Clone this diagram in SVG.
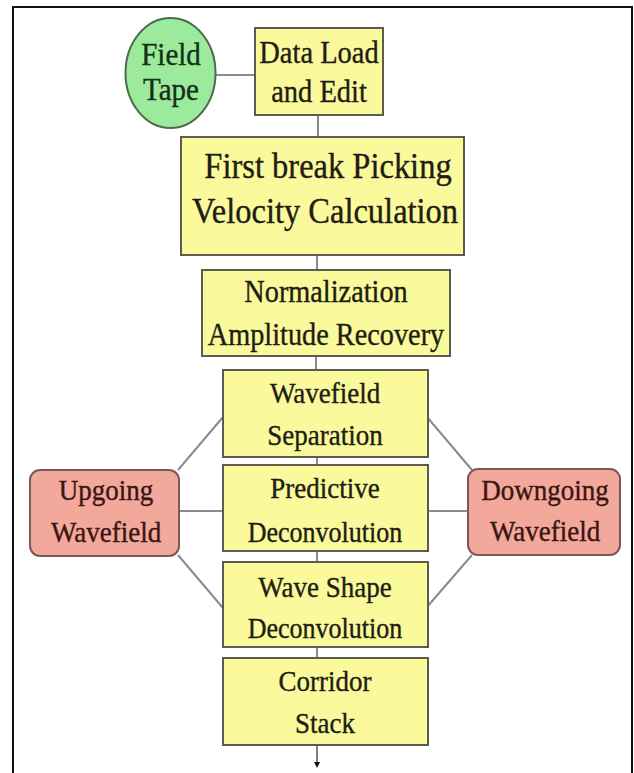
<svg xmlns="http://www.w3.org/2000/svg" width="634" height="773" viewBox="0 0 634 773">
<style>
.box{fill:#FAFA9C;stroke:#5c5c4c;stroke-width:2}
.pink{fill:#F2A89B;stroke:#7a5a55;stroke-width:2}
.green{fill:#9CEB9C;stroke:#4c6a4c;stroke-width:2}
.t{font-family:"Liberation Serif","Times New Roman",serif;fill:#1e1e14;stroke:#1e1e14;stroke-width:0.35;text-anchor:middle}
.tp{fill:#3a1512;stroke:#3a1512}
.tg{fill:#14301a;stroke:#14301a}
.c{stroke:#8a8a90;stroke-width:2;fill:none}
</style>
<defs>
<marker id="arr" markerWidth="6" markerHeight="6" refX="3" refY="3" orient="auto" markerUnits="userSpaceOnUse">
<path d="M0,0 L6,3 L0,6 Z" fill="#111"/>
</marker>
</defs>
<rect x="0" y="0" width="634" height="773" fill="#fff"/>
<rect x="13" y="7" width="619" height="800" fill="none" stroke="#111" stroke-width="2"/>
<g id="connectors">
<line class="c" x1="215" y1="75" x2="255" y2="75"/>
<line class="c" x1="318" y1="115" x2="318" y2="137"/>
<line class="c" x1="317" y1="255" x2="317" y2="270"/>
<line class="c" x1="316" y1="356" x2="316" y2="370"/>
<line class="c" x1="317" y1="457" x2="317" y2="465"/>
<line class="c" x1="317" y1="551" x2="317" y2="562"/>
<line class="c" x1="317" y1="647" x2="317" y2="658"/>
<line class="c" x1="178" y1="470" x2="223" y2="417"/>
<line class="c" x1="179" y1="511" x2="223" y2="511"/>
<line class="c" x1="178" y1="555" x2="223" y2="608"/>
<line class="c" x1="427" y1="417" x2="472" y2="470"/>
<line class="c" x1="428" y1="511" x2="468" y2="511"/>
<line class="c" x1="427" y1="607" x2="472" y2="555"/>
<line x1="317" y1="745" x2="317" y2="765" stroke="#555" stroke-width="1.5" marker-end="url(#arr)"/>
</g>
<g id="field-tape">
<ellipse class="green" cx="170.5" cy="73" rx="45" ry="55"/>
<text class="t tg" transform="translate(171 65) scale(1 1.1)" font-size="29">Field</text>
<text class="t tg" transform="translate(171 100) scale(1 1.1)" font-size="29">Tape</text>
</g>
<g id="data-load">
<rect class="box" x="255" y="28" width="128" height="87"/>
<text class="t" transform="translate(319 63) scale(1 1.1)" font-size="28.5">Data Load</text>
<text class="t" transform="translate(319 102) scale(1 1.1)" font-size="28.5">and Edit</text>
</g>
<g id="first-break">
<rect class="box" x="181" y="137" width="283" height="118"/>
<text class="t" transform="translate(328 178) scale(1 1.1)" font-size="32.5">First break Picking</text>
<text class="t" transform="translate(325 223) scale(1 1.1)" font-size="32.5">Velocity Calculation</text>
</g>
<g id="normalization">
<rect class="box" x="202" y="270" width="248" height="86"/>
<text class="t" transform="translate(326 302) scale(1 1.1)" font-size="28.3">Normalization</text>
<text class="t" transform="translate(326 345) scale(1 1.1)" font-size="28.3">Amplitude Recovery</text>
</g>
<g id="wavefield-separation">
<rect class="box" x="223" y="370" width="205" height="87"/>
<text class="t" transform="translate(325 403) scale(1 1.1)" font-size="27">Wavefield</text>
<text class="t" transform="translate(325 445) scale(1 1.1)" font-size="27">Separation</text>
</g>
<g id="predictive">
<rect class="box" x="223" y="465" width="205" height="86"/>
<text class="t" transform="translate(325 498) scale(1 1.1)" font-size="27">Predictive</text>
<text class="t" transform="translate(325 542) scale(1 1.1)" font-size="26">Deconvolution</text>
</g>
<g id="wave-shape">
<rect class="box" x="223" y="562" width="205" height="85"/>
<text class="t" transform="translate(325 597) scale(1 1.1)" font-size="27">Wave Shape</text>
<text class="t" transform="translate(325 638) scale(1 1.1)" font-size="26">Deconvolution</text>
</g>
<g id="corridor-stack">
<rect class="box" x="223" y="658" width="205" height="87"/>
<text class="t" transform="translate(325 691) scale(1 1.1)" font-size="27">Corridor</text>
<text class="t" transform="translate(325 733) scale(1 1.1)" font-size="27">Stack</text>
</g>
<g id="upgoing">
<rect class="pink" x="30" y="470" width="149" height="86" rx="10"/>
<text class="t tp" transform="translate(106 500) scale(1 1.1)" font-size="27">Upgoing</text>
<text class="t tp" transform="translate(106 542) scale(1 1.1)" font-size="27">Wavefield</text>
</g>
<g id="downgoing">
<rect class="pink" x="468" y="469" width="152" height="86" rx="10"/>
<text class="t tp" transform="translate(545 500) scale(1 1.1)" font-size="27">Downgoing</text>
<text class="t tp" transform="translate(545 541) scale(1 1.1)" font-size="27">Wavefield</text>
</g>
</svg>
